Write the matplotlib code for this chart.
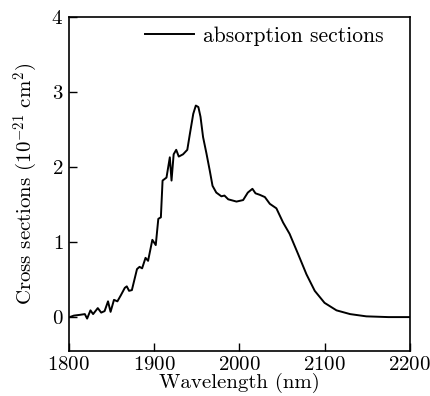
import matplotlib
matplotlib.use("Agg")
import matplotlib.pyplot as plt

plt.rcParams['font.family'] = 'serif'
plt.rcParams['font.serif'] = ['cmr10']
plt.rcParams['mathtext.fontset'] = 'cm'
plt.rcParams['axes.formatter.use_mathtext'] = True

# wavelength (nm) and absorption cross section (1e-21 cm^2)
wavelength = [1801, 1806, 1813, 1818.8, 1821.5, 1825.4, 1828.5, 1834, 1838, 1842,
              1846, 1849, 1853, 1857, 1861, 1865.7, 1868, 1870.7, 1874, 1880,
              1883, 1886, 1890, 1893, 1898, 1902, 1905, 1908, 1910, 1914.6,
              1918.5, 1920.5, 1923, 1926, 1929, 1934, 1939, 1942, 1946, 1949,
              1952, 1954.5, 1957.5, 1961.5, 1965.4, 1968.6, 1973, 1979, 1982.6, 1987,
              1996.7, 2004.5, 2010, 2015.4, 2019, 2024, 2030, 2035.8, 2043.5, 2051.4,
              2059, 2069, 2078.8, 2088.5, 2100, 2114, 2130, 2149, 2175, 2200]
cross_section = [0.00, 0.02, 0.03, 0.04, -0.02, 0.09, 0.04, 0.12, 0.06, 0.08,
                 0.21, 0.07, 0.23, 0.21, 0.29, 0.39, 0.41, 0.35, 0.36, 0.64,
                 0.67, 0.65, 0.79, 0.75, 1.03, 0.96, 1.31, 1.33, 1.82, 1.86,
                 2.13, 1.82, 2.17, 2.23, 2.14, 2.17, 2.23, 2.44, 2.71, 2.82,
                 2.80, 2.67, 2.40, 2.18, 1.95, 1.75, 1.66, 1.61, 1.62, 1.57,
                 1.54, 1.56, 1.66, 1.71, 1.65, 1.63, 1.60, 1.51, 1.45, 1.26,
                 1.11, 0.84, 0.57, 0.35, 0.19, 0.09, 0.04, 0.01, 0.0, 0.0]

fig = plt.figure(figsize=(4.3, 3.96), dpi=100)
ax = fig.add_axes([0.160, 0.114, 0.793, 0.843])

ax.plot(wavelength, cross_section, color='black', lw=1.4, label='absorption sections')

ax.set_xlim(1800, 2200)
ax.set_ylim(-0.45, 4)
ax.set_xticks([1800, 1900, 2000, 2100, 2200])
ax.set_yticks([0, 1, 2, 3, 4])
ax.tick_params(direction='in', length=6, width=1, labelsize=15, pad=4)
for s in ax.spines.values():
    s.set_linewidth(1.2)

ax.set_xlabel('Wavelength (nm)', fontsize=15, labelpad=-1)
ax.set_ylabel(r'Cross sections $(10^{-21}\ \mathrm{cm}^2)$', fontsize=15, labelpad=8)

ax.legend(loc='upper right', frameon=False, fontsize=15.5, handlelength=2.3,
          handletextpad=0.4, bbox_to_anchor=(0.98, 1.03))

fig.savefig('out.png', dpi=100)
